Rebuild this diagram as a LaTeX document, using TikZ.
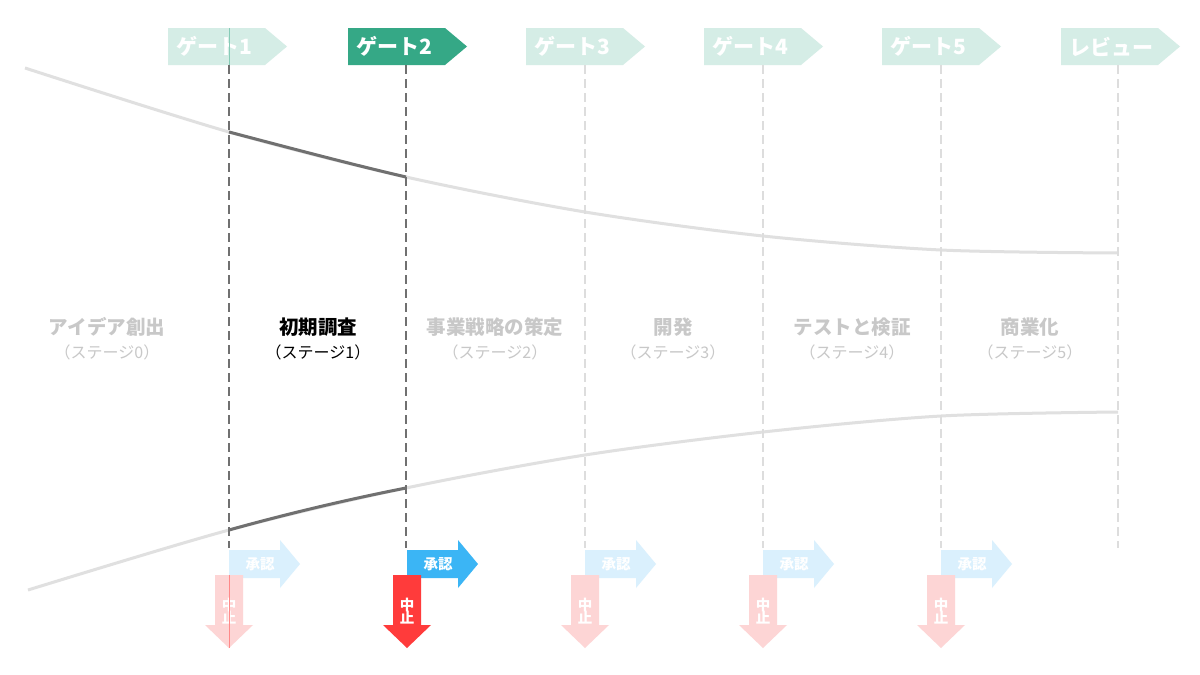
\documentclass[tikz,border=0pt]{standalone}
\usepackage{fontspec}
\setmainfont{Noto Sans CJK JP}
\begin{document}
\begin{tikzpicture}[x=1pt,y=-1pt,
  lbl/.style={font=\bfseries\fontsize{21}{22}\selectfont,text=white,inner sep=0},
  sm/.style={font=\bfseries\fontsize{14.5}{15}\selectfont,text=white,inner sep=0},
  stg/.style={font=\bfseries\fontsize{19.5}{20}\selectfont,align=center,inner sep=0},
  sub/.style={font=\fontsize{16}{17}\selectfont}]
\definecolor{lg}{HTML}{D5EDE6}\definecolor{dg}{HTML}{35A886}
\definecolor{lb}{HTML}{DAF0FD}\definecolor{db}{HTML}{3BB5F5}
\definecolor{lr}{HTML}{FDD5D5}\definecolor{dr}{HTML}{FF3B3B}
\definecolor{lt}{HTML}{C8C8C8}\definecolor{cv}{HTML}{E0E0E0}\definecolor{dk}{HTML}{707070}
\definecolor{vl}{HTML}{DDDDDD}
\useasboundingbox[fill=white] (0,0) rectangle (1200,675);
% curves
\draw[cv,line width=3] plot[smooth] coordinates {(25,68)(229,132)(406,177)(585,212)(763,236)(941,250)(1118,253)};
\draw[cv,line width=3] plot[smooth] coordinates {(28,590)(229,530)(406,488)(585,455)(763,432)(941,416)(1118,412)};
\coordinate (t1) at (229,132); \coordinate (t2) at (406,177);
\coordinate (b1) at (229,530); \coordinate (b2) at (406,488);
\draw[dk,line width=3] (t1) .. controls (290,148) and (350,164) .. (t2);
\draw[dk,line width=3] (b1) .. controls (290,513) and (350,499) .. (b2);
% gates
\foreach \x/\c/\t/\n in {168/lg/ゲート1/g1,348/dg/ゲート2/g2,526/lg/ゲート3/g3,704/lg/ゲート4/g4,882/lg/ゲート5/g5,1061/lg/レビュー/g6}{
  \fill[\c] (\x,28) -- ++(97,0) -- ++(22,18.5) -- ++(-22,18.5) -- ++(-97,0) -- cycle;
  \node[lbl,anchor=west] (\n) at (\x+8,46.5) {\t};
}
% vertical lines
\foreach \x/\c in {229/dk,406/dk}{\draw[\c,line width=2,dash pattern=on 9pt off 5pt] (\x,65) -- (\x,548);}
\foreach \x in {585,763,941,1118}{\draw[vl,line width=2.5,dash pattern=on 9pt off 5pt] (\x,65) -- (\x,548);}
% decisions
\foreach \x/\a/\r/\na/\ns in {229/lb/lr/a1/s1,407/db/dr/a2/s2,585/lb/lr/a3/s3,763/lb/lr/a4/s4,941/lb/lr/a5/s5}{
  \fill[\a] (\x,550) -- ++(51,0) -- ++(0,-10) -- ++(20,24) -- ++(-20,24) -- ++(0,-10) -- ++(-51,0) -- cycle;
  \node[sm] (\na) at (\x+31,564) {承認};
  \fill[\r] (\x-14,575) -- ++(28,0) -- ++(0,50) -- ++(10,0) -- ++(-24,23) -- ++(-24,-23) -- ++(10,0) -- cycle;
  \node[sm,align=center] (\ns) at (\x,611) {中\\[-2pt]止};
}
\draw[dg!60,line width=0.7] (229,28) -- (229,65);
\draw[dr!60,line width=0.7] (229,575) -- (229,648);
% stages
\node[stg,text=lt] (st0) at (107,327) {アイデア創出};
\node[sub,text=lt] at (107,352) {（ステージ0）};
\node[stg,text=black] (st1) at (318,327) {初期調査};
\node[sub,text=black] at (318,352) {（ステージ1）};
\node[stg,text=lt] (st2) at (495,327) {事業戦略の策定};
\node[sub,text=lt] at (495,352) {（ステージ2）};
\node[stg,text=lt] (st3) at (673,327) {開発};
\node[sub,text=lt] at (673,352) {（ステージ3）};
\node[stg,text=lt] (st4) at (852,327) {テストと検証};
\node[sub,text=lt] at (852,352) {（ステージ4）};
\node[stg,text=lt] (st5) at (1030,327) {商業化};
\node[sub,text=lt] at (1030,352) {（ステージ5）};
\end{tikzpicture}
\end{document}
